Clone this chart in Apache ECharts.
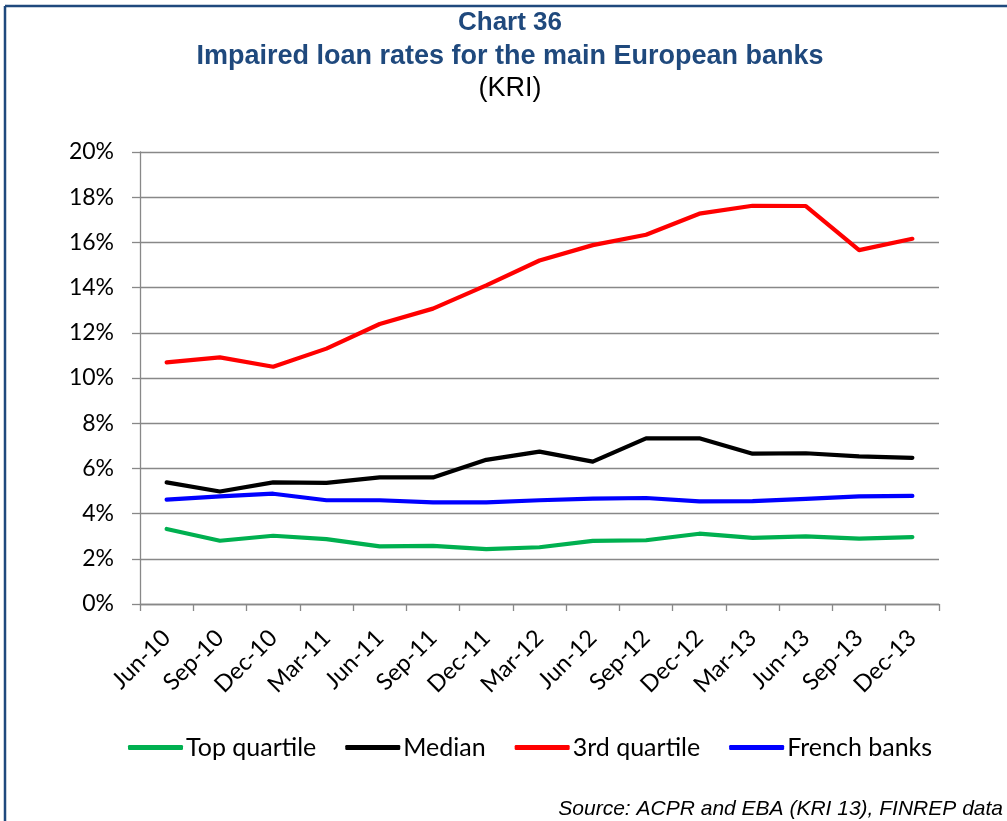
<!DOCTYPE html>
<html>
<head>
<meta charset="utf-8">
<script src="https://cdn.jsdelivr.net/npm/echarts@6/dist/echarts.min.js"></script>
<style>
  html, body { margin: 0; padding: 0; background: #fff; }
  #chart { width: 1007px; height: 821px; }
</style>
</head>
<body>
<div id="chart"></div>
<script>
// Quarterly impaired loan rates (%), KRI 13
const quarters = ['Jun-10', 'Sep-10', 'Dec-10', 'Mar-11', 'Jun-11', 'Sep-11', 'Dec-11', 'Mar-12',
                  'Jun-12', 'Sep-12', 'Dec-12', 'Mar-13', 'Jun-13', 'Sep-13', 'Dec-13'];
const topQuartile = [3.32, 2.80, 3.02, 2.87, 2.55, 2.57, 2.43, 2.51, 2.79, 2.82, 3.11, 2.93, 2.99, 2.89, 2.96];
const median = [5.38, 4.98, 5.38, 5.36, 5.60, 5.60, 6.38, 6.74, 6.30, 7.33, 7.33, 6.65, 6.67, 6.53, 6.47];
const thirdQuartile = [10.69, 10.91, 10.50, 11.30, 12.39, 13.07, 14.10, 15.20, 15.88, 16.34, 17.27, 17.62, 17.61, 15.66, 16.16];
const frenchBanks = [4.62, 4.76, 4.88, 4.59, 4.59, 4.50, 4.50, 4.59, 4.66, 4.69, 4.54, 4.55, 4.65, 4.76, 4.78];
const seriesNames = ['Top quartile', 'Median', '3rd quartile', 'French banks'];
const seriesColors = ['#00b050', '#000000', '#ff0000', '#0000ff'];

const chart = echarts.init(document.getElementById('chart'), null, { renderer: 'canvas' });
const gridColor = '#888888';
const labelFont = 'Lato, "Open Sans", sans-serif';
const titleFont = '"Liberation Sans", Arial, sans-serif';

function lineSeries(name, data, color) {
  return {
    name: name, type: 'line', data: data,
    symbol: 'none', smooth: false,
    lineStyle: { color: color, width: 4.2, cap: 'round', join: 'round' },
    itemStyle: { color: color }
  };
}

function titleLine(text, y, size, weight, color) {
  return {
    type: 'text', x: 510, y: y,
    style: { text: text, fill: color, textAlign: 'center', textVerticalAlign: 'middle',
             font: weight + ' ' + size + 'px ' + titleFont }
  };
}

chart.setOption({
  animation: false,
  backgroundColor: '#ffffff',
  graphic: [
    // frame along the top and left edges
    { type: 'line', shape: { x1: 5, y1: 6, x2: 1007, y2: 6 }, style: { stroke: '#1f497d', lineWidth: 2.5 } },
    { type: 'line', shape: { x1: 5, y1: 6, x2: 5, y2: 821 }, style: { stroke: '#1f497d', lineWidth: 2.5 } },
    titleLine('Chart 36', 23, 26, 'bold', '#1f497d'),
    titleLine('Impaired loan rates for the main European banks', 57, 27, 'bold', '#1f497d'),
    titleLine('(KRI)', 89, 27, 'normal', '#000000'),
    { type: 'text', right: 4, top: 799,
      style: { text: 'Source: ACPR and EBA (KRI 13), FINREP data', fill: '#000',
               font: 'italic 21px "Liberation Sans", Arial, sans-serif' } }
  ],
  legend: {
    data: seriesNames.map(n => ({ name: n, icon: 'roundRect' })),
    left: 128, top: 735, padding: 0,
    itemWidth: 55, itemHeight: 5, itemGap: 29,
    textStyle: { fontFamily: labelFont, fontSize: 25, color: '#000', padding: [0, 0, 0, -2] }
  },
  grid: { left: 140, right: 68, top: 152, bottom: 217, containLabel: false },
  xAxis: {
    type: 'category', data: quarters, boundaryGap: true,
    axisLine: { lineStyle: { color: gridColor, width: 1.3 } },
    axisTick: { show: true, length: 7, lineStyle: { color: gridColor, width: 1.3 } },
    axisLabel: { rotate: 45, margin: 30, fontFamily: labelFont, fontSize: 23.5, color: '#000' }
  },
  yAxis: {
    type: 'value', min: 0, max: 20, interval: 2,
    axisLine: { show: true, lineStyle: { color: gridColor, width: 1.3 } },
    axisTick: { show: true, length: 8, lineStyle: { color: gridColor, width: 1.3 } },
    axisLabel: { formatter: '{value}%', margin: 26, fontFamily: labelFont, fontSize: 23, color: '#000' },
    splitLine: { lineStyle: { color: gridColor, width: 1.3 } }
  },
  series: [
    lineSeries(seriesNames[0], topQuartile, seriesColors[0]),
    lineSeries(seriesNames[1], median, seriesColors[1]),
    lineSeries(seriesNames[2], thirdQuartile, seriesColors[2]),
    lineSeries(seriesNames[3], frenchBanks, seriesColors[3])
  ]
});
</script>
</body>
</html>
